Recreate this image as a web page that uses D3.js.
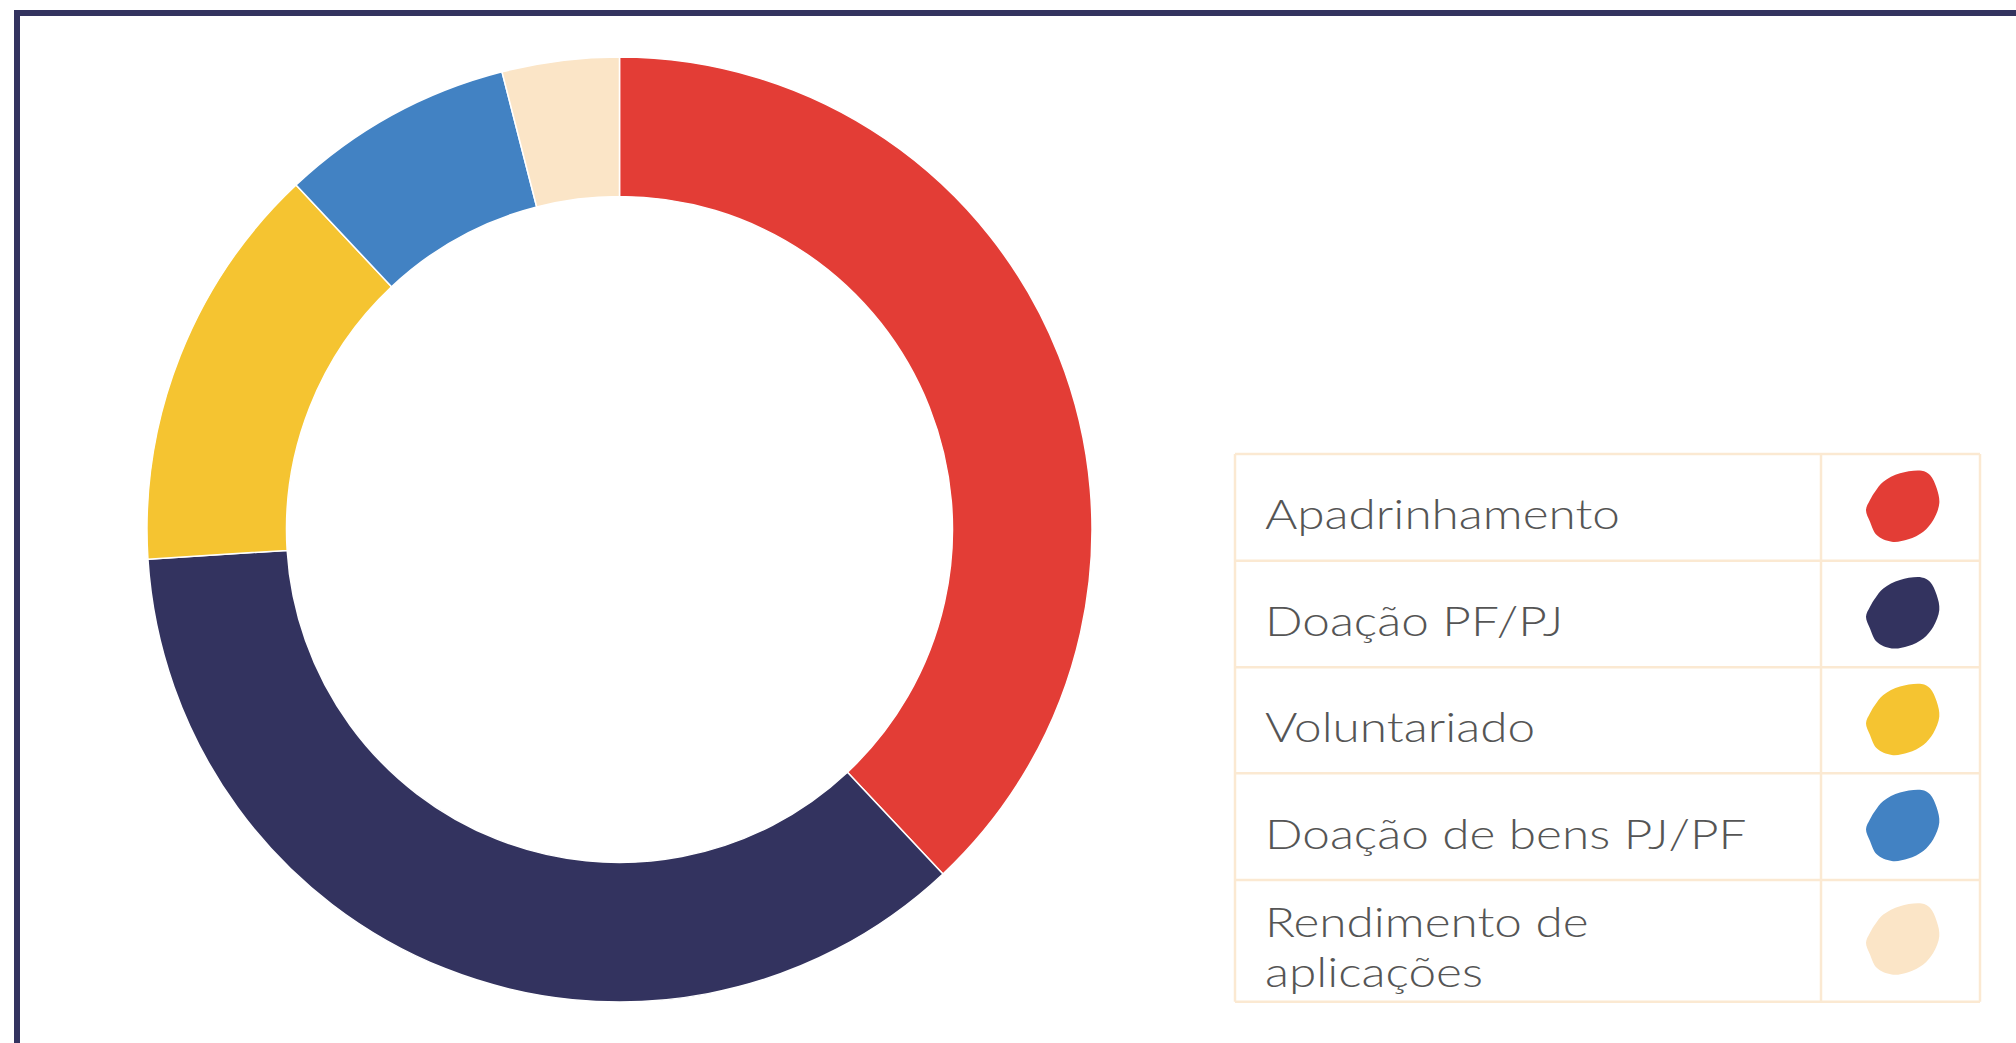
<!DOCTYPE html>
<html>
<head>
<meta charset="utf-8">
<script src="https://cdn.jsdelivr.net/npm/d3@7"></script>
<style>
  html, body { margin: 0; padding: 0; background: #ffffff; overflow: hidden; }
  svg { display: block; }
</style>
</head>
<body>
<svg id="chart" width="2016" height="1043"></svg>
<script>
// ---- data ----
const categories = ["Apadrinhamento", "Doação PF/PJ", "Voluntariado", "Doação de bens PJ/PF", "Rendimento de aplicações"];
const values = [38, 36, 14, 8, 4];
const colors = ["#e33d36", "#33335f", "#f5c431", "#4282c3", "#fbe5c7"];
const legendLines = [["Apadrinhamento"], ["Doação PF/PJ"], ["Voluntariado"], ["Doação de bens PJ/PF"], ["Rendimento de", "aplicações"]];

const svg = d3.select("#chart");

// frame
svg.append("rect")
  .attr("x", 17).attr("y", 13)
  .attr("width", 2200).attr("height", 1200)
  .attr("fill", "none")
  .attr("stroke", "#33335f")
  .attr("stroke-width", 6);

// donut
const cx = 619.5, cy = 529.5, R = 472.5, r = 333;
const pie = d3.pie().sort(null).value(d => d.v)(values.map((v, i) => ({ v, i })));
const arc = d3.arc().innerRadius(r).outerRadius(R);
const g = svg.append("g").attr("transform", `translate(${cx},${cy})`);
g.selectAll("path.slice")
  .data(pie)
  .join("path")
  .attr("class", "slice")
  .attr("d", arc)
  .attr("fill", d => colors[d.data.i])
  .attr("stroke", "#ffffff")
  .attr("stroke-width", 1.5);

// legend table
const lx0 = 1235, lx1 = 1980, ldiv = 1821;
const rowTops = [454, 560.7, 667.3, 773.3, 880, 1001.7];
const lineColor = "#fbe9d2";
const lg = svg.append("g");

lg.selectAll("line.h")
  .data(rowTops)
  .join("line")
  .attr("class", "h")
  .attr("x1", lx0).attr("x2", lx1)
  .attr("y1", d => d).attr("y2", d => d)
  .attr("stroke", lineColor).attr("stroke-width", 2.5);
lg.selectAll("line.v")
  .data([lx0, ldiv, lx1])
  .join("line")
  .attr("class", "v")
  .attr("x1", d => d).attr("x2", d => d)
  .attr("y1", rowTops[0]).attr("y2", rowTops[5])
  .attr("stroke", lineColor).attr("stroke-width", 2.5);

// blob marker shape (relative outline)
const blobPts = [[18.7,-35.3],[-3,-32.7],[-19.7,-24.3],[-28,-14.3],[-33,-6],[-37,4],[-33,15.7],[-26.3,29],[-11.3,35.7],[5.3,33.3],[20.3,25.7],[30.3,14],[36.3,-2.7],[33.7,-17.7],[27,-31]];
const blobLine = d3.line().curve(d3.curveCatmullRomClosed.alpha(0.5));

const textX = 1265;
const textG = lg.append("g");
const textNodes = [];
categories.forEach((c, i) => {
  const top = rowTops[i], bot = rowTops[i + 1];
  const mid = (top + bot) / 2;
  const lines = legendLines[i];
  const ys = lines.length === 1 ? [mid + 22] : [mid - 3.5, mid + 46.5];
  lines.forEach((ln, k) => {
    const t = textG.append("text")
      .attr("x", textX)
      .attr("y", ys[k])
      .attr("font-family", "Lato, 'Open Sans', sans-serif")
      .attr("font-weight", 300)
      .attr("font-size", 41.5)
      .attr("fill", "#555555")
      .text(ln);
    textNodes.push(t);
  });
  const bcy = i === 4 ? mid - 2 : top + 52;
  lg.append("path")
    .attr("d", blobLine(blobPts))
    .attr("transform", `translate(1903,${bcy})`)
    .attr("fill", colors[i]);
});
// stretch text horizontally so the first label spans its width in the reference
const w0 = textNodes[0].node().getComputedTextLength();
const sx = 355 / w0;
textG.attr("transform", `translate(${textX},0) scale(${sx},1) translate(${-textX},0)`);
</script>
</body>
</html>
